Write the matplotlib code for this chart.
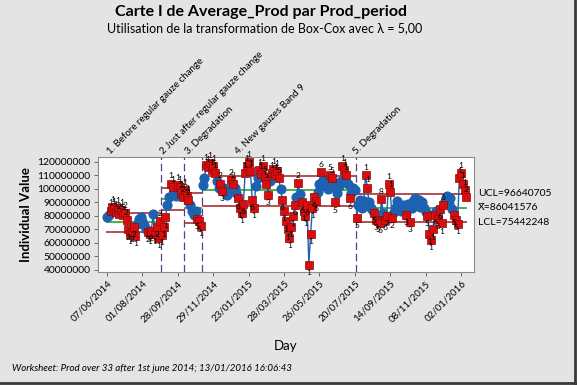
import matplotlib.pyplot as plt
import numpy as np

plt.rcParams['font.family'] = ['Lato', 'DejaVu Sans']

# stages of the I chart
stage_names = ["1. Before regular gauze change", "2 Just after regular gauze change",
               "3. Degradation", "4. New gauzes Band 9", "5. Degradation"]
stage_sizes = [31, 13, 10, 87, 63]
# control limits per stage, in millions
ucl = [82.0, 100.5, 96.8, 109.9, 96.640705]
cl = [75.3, 92.6, 86.2, 99.3, 86.041576]
lcl = [67.9, 84.4, 74.6, 87.4, 75.442248]

# Average_Prod, in millions, one value per observation
values = [
    # stage 1
    79.5, 81.0, 84.0, 86.5, 85.0, 83.0, 86.0, 81.5, 84.5, 80.5, 82.0, 77.0, 70.0, 66.5, 68.0, 72.0,
    65.0, 74.0, 78.0, 79.0, 76.5, 73.0, 70.0, 68.5, 66.5, 69.0, 81.5, 67.0, 72.0, 63.5, 76.0,
    # stage 2
    66.0, 72.0, 79.0, 88.0, 94.0, 104.0, 101.5, 96.0, 94.5, 103.0, 101.5, 97.0, 94.0,
    # stage 3
    99.0, 95.0, 91.5, 88.0, 84.0, 81.0, 83.5, 78.0, 76.0, 72.5,
    # stage 4
    103.0, 108.0, 118.0, 116.0, 119.5, 114.0, 117.0, 111.5, 106.0, 101.0, 104.0, 98.5, 100.5, 97.0,
    95.5, 99.0, 106.5, 104.0, 101.0, 97.0, 93.0, 86.0, 82.0, 89.0, 112.0, 117.0, 120.0, 113.0,
    92.0, 86.0, 102.0, 108.0, 114.0, 111.0, 117.0, 109.0, 104.0, 95.5, 106.0, 112.0, 115.0, 110.5,
    113.0, 108.0, 100.0, 92.0, 84.0, 76.0, 70.0, 64.0, 72.0, 80.0, 88.0, 94.0, 104.5, 96.0,
    90.0, 84.0, 80.0, 88.0, 44.0, 67.0, 86.0, 94.0, 91.0, 98.0, 104.0, 112.5, 107.0, 102.0,
    105.0, 100.0, 110.5, 108.0, 104.0, 90.0, 97.0, 102.0, 106.0, 117.0, 114.0, 110.0, 104.0, 93.0,
    97.0, 101.0, 99.0,
    # stage 5
    78.5, 88.0, 92.0, 86.0, 91.0, 110.5, 101.0, 90.0, 86.0, 84.0, 82.0, 77.0, 76.0, 75.0,
    92.5, 82.0, 77.0, 80.0, 103.5, 98.0, 78.5, 83.0, 87.0, 91.0, 86.0, 84.0, 88.0, 85.0,
    81.0, 89.0, 75.5, 86.0, 91.0, 93.0, 89.0, 92.0, 87.0, 90.0, 86.0, 83.0, 80.0, 67.0,
    62.0, 70.0, 81.0, 84.0, 78.0, 85.0, 74.5, 88.0, 91.0, 95.0, 89.0, 93.0, 85.0, 81.0,
    77.0, 74.0, 108.0, 112.0, 104.0, 99.0, 94.0,
]

# failed test number per observation (0 = in control)
tests = [
    0, 0, 1, 1, 1, 1, 1, 2, 1, 5, 2, 2, 2, 1, 2, 2, 1, 0, 0, 0, 0, 0, 0, 2, 1, 2, 0, 1, 2, 1, 2,
    1, 1, 1, 0, 0, 1, 1, 0, 0, 1, 1, 2, 2,
    1, 2, 2, 0, 0, 0, 0, 5, 5, 1,
    0, 0, 1, 1, 1, 1, 1, 1, 0, 0, 2, 3, 0, 0, 0, 0, 2, 2, 0, 0, 6, 1, 1, 6, 1, 1, 1, 1,
    6, 1, 0, 0, 1, 1, 1, 5, 5, 3, 0, 1, 1, 1, 1, 5, 0, 6, 1, 1, 1, 1, 1, 1, 6, 0, 2, 0,
    6, 1, 1, 6, 1, 1, 1, 6, 6, 0, 0, 6, 0, 0, 0, 0, 5, 5, 0, 5, 0, 0, 0, 1, 1, 1, 0, 6,
    0, 0, 0,
    5, 0, 0, 0, 0, 1, 1, 0, 0, 0, 5, 3, 5, 6, 8, 0, 6, 2, 1, 1, 2, 0, 0, 0, 0, 0, 0, 0,
    3, 0, 3, 0, 0, 0, 0, 0, 0, 0, 0, 0, 5, 1, 1, 1, 6, 0, 6, 6, 1, 6, 0, 0, 0, 0, 0, 5,
    5, 1, 1, 1, 1, 1, 2,
]

day_labels = ["07/06/2014", "01/08/2014", "28/09/2014", "29/11/2014", "23/01/2015", "28/03/2015",
              "26/05/2015", "20/07/2015", "14/09/2015", "08/11/2015", "02/01/2016"]

blue = '#1C62B0'
red = '#D80E0E'
limit_col = '#A01E1E'
center_col = '#1E9B1E'
stage_col = '#5B3F8F'
bg = '#E4E4E4'

y = np.array(values) * 1e6
obs = np.arange(1, len(y) + 1)
tests = np.array(tests)
ends = np.cumsum(stage_sizes)
starts = ends - np.array(stage_sizes) + 1

fig = plt.figure(figsize=(5.77, 3.85), dpi=100, facecolor=bg)
ax = fig.add_axes([0.169, 0.2935, 0.6525, 0.2987])

for k in range(len(stage_sizes)):
    s, e = starts[k], ends[k]
    sel = (obs >= s) & (obs <= e)
    ax.plot(obs[sel], y[sel], '-', color=blue, lw=1.0, zorder=2)
    ax.hlines([ucl[k] * 1e6, lcl[k] * 1e6], s - 0.5, e + 0.5, color=limit_col, lw=1.1, zorder=1)
    ax.hlines(cl[k] * 1e6, s - 0.5, e + 0.5, color=center_col, lw=1.1, zorder=1)
    if k > 0:
        ax.axvline(s - 0.5, color=stage_col, lw=0.9, ls=(0, (6, 3)), zorder=1)

ok = tests == 0
ax.plot(obs[ok], y[ok], 'o', color=blue, ms=6.3, mec=blue, zorder=3)
ax.plot(obs[~ok], y[~ok], 's', color=red, ms=5.5, mec='#8A0A0A', mew=0.5, zorder=4)

# test numbers next to the red points
stage_of = np.repeat(np.arange(len(stage_sizes)), stage_sizes)
for i in np.where(~ok)[0]:
    above = values[i] >= cl[stage_of[i]]
    ax.annotate(str(tests[i]), (obs[i], y[i]), xytext=(0, 3 if above else -3),
                textcoords='offset points', ha='center', va='bottom' if above else 'top',
                fontsize=6, zorder=5)

# stage names above the plot
label_x = [4, 34, 48, 76, 143]
for name, lx in zip(stage_names, label_x):
    ax.text(lx, 1.005, name, transform=ax.get_xaxis_transform(), rotation=45,
            rotation_mode='anchor', ha='left', va='bottom', fontsize=7)

ax.set_xlim(-4.4, 208.3)
ax.set_ylim(38.5e6, 123.7e6)
ax.set_yticks(np.arange(40e6, 120.1e6, 10e6))
ax.set_yticklabels(["%d" % v for v in np.arange(40e6, 120.1e6, 10e6)], fontsize=7.5)
ax.set_xticks(obs[::20])
ax.set_xticklabels(day_labels, rotation=45, ha='right', rotation_mode='anchor', fontsize=7)
ax.tick_params(length=3, width=0.6, color='#555555', pad=2)
for sp in ax.spines.values():
    sp.set_color('#8C8C8C')
    sp.set_linewidth(0.8)

ax.set_ylabel("Individual Value", fontsize=9.5, fontweight='bold', labelpad=4)
ax.set_xlabel("Day", fontsize=9.5, labelpad=12)

# values of the last stage on the right
ax.text(1.01, ucl[-1] * 1e6, "UCL=%d" % round(ucl[-1] * 1e6), transform=ax.get_yaxis_transform(),
        va='center', fontsize=7.5)
ax.text(1.01, cl[-1] * 1e6, "X\u0304=%d" % round(cl[-1] * 1e6), transform=ax.get_yaxis_transform(),
        va='center', fontsize=7.5)
ax.text(1.01, lcl[-1] * 1e6, "LCL=%d" % round(lcl[-1] * 1e6), transform=ax.get_yaxis_transform(),
        va='center', fontsize=7.5)

fig.text(0.452, 0.968, "Carte I de Average_Prod par Prod_period", ha='center', va='center',
         fontsize=11.5, fontweight='bold')
fig.text(0.458, 0.928, "Utilisation de la transformation de Box-Cox avec \u03bb = 5,00", ha='center',
         va='center', fontsize=9)
fig.text(0.021, 0.042, "Worksheet: Prod over 33 after 1st june 2014; 13/01/2016 16:06:43",
         ha='left', va='center', fontsize=7, style='italic')

# frame shadow on the right and bottom
fig.add_artist(plt.Line2D([0.9965, 0.9965], [0, 1], transform=fig.transFigure, color='#3A3A3A', lw=2))
fig.add_artist(plt.Line2D([0, 1], [0.004, 0.004], transform=fig.transFigure, color='#3A3A3A', lw=2))

fig.savefig("out.png", dpi=100, facecolor=bg)
